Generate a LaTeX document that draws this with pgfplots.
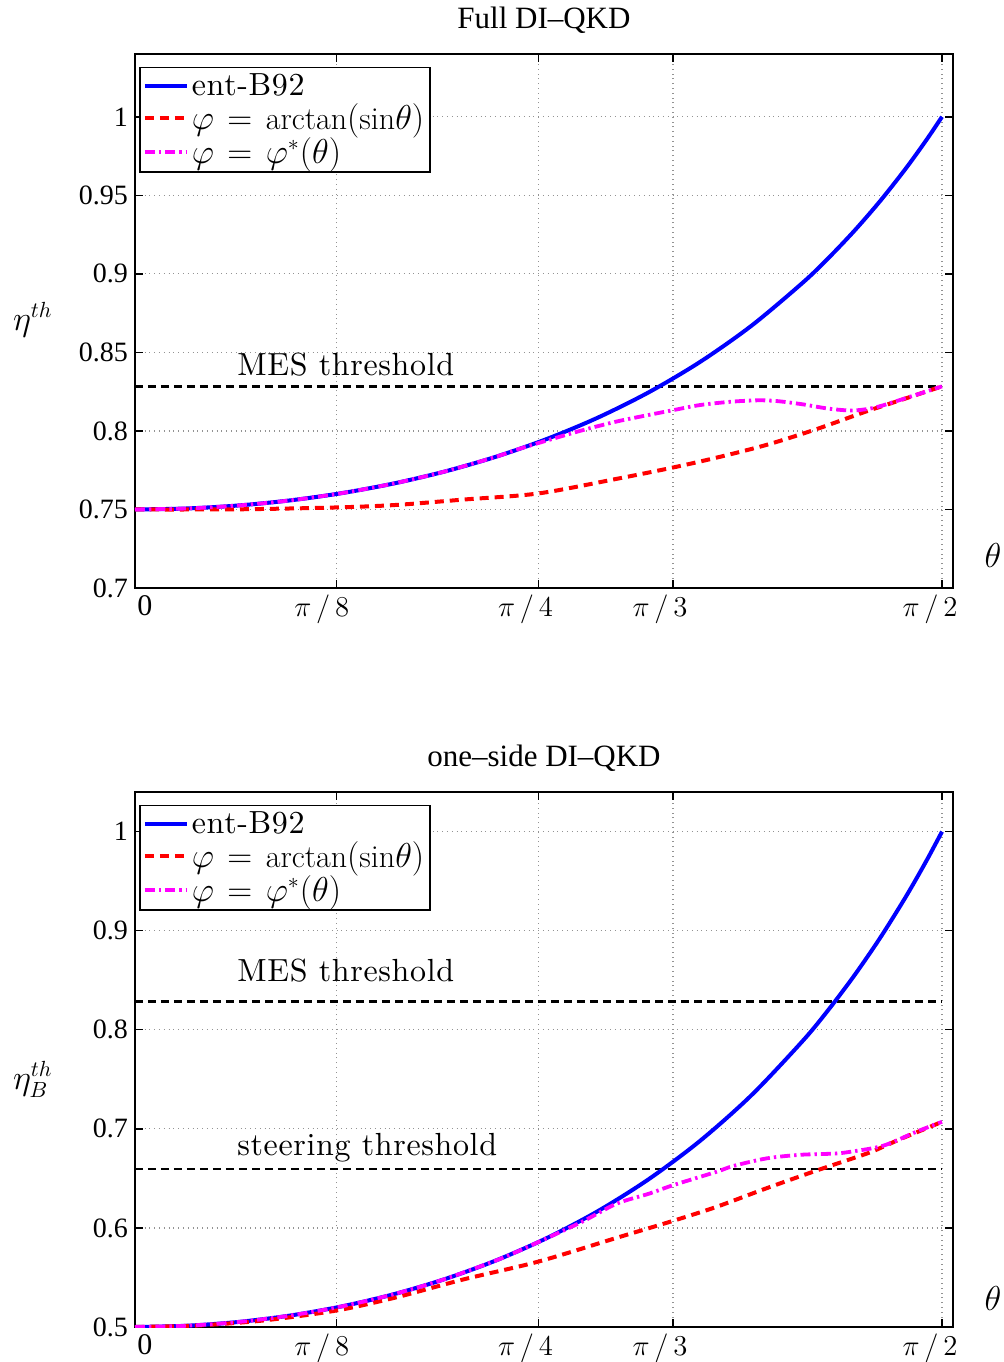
\documentclass[border=0pt]{standalone}
\usepackage{fontspec}
\usepackage{pgfplots}
\pgfplotsset{compat=1.18}
\newfontfamily\tms{Liberation Serif}
\newfontfamily\lmw{lmroman10-regular}[Extension=.otf, LetterSpace=2.0]
\definecolor{mblue}{rgb}{0,0,1}
\definecolor{mred}{rgb}{1,0,0}
\definecolor{mmag}{rgb}{1,0,1}
\newcommand{\ls}{\lmw}
\newcommand{\eqs}{\mskip2mu=\mskip2mu}

\pgfplotsset{
  myaxis/.style={
    scale only axis, width=409pt,
    xmin=0, xmax=1.5922, ymax=1.04,
    xtick={0,0.392699,0.785398,1.047198,1.570796},
    xticklabels={\hspace*{10pt}{\tms 0},$\pi\,/\,8$\hspace*{15pt},$\pi\,/\,4$\hspace*{13pt},$\pi\,/\,3$\hspace*{13pt},$\pi\,/\,2$\hspace*{12pt}},
    xticklabel style={font=\fontsize{15}{17}\selectfont},
    yticklabel style={font=\tms\fontsize{14}{16}\selectfont},
    tick align=inside, tick pos=both, major tick length=4pt,
    tick style={line width=0.7pt, black},
    grid=major, major grid style={dotted, gray!85, line width=0.6pt},
    axis line style={line width=0.8pt},
    every axis title/.style={at={(rel axis cs:0.5,1)}, anchor=center, yshift=17pt, font=\tms\fontsize{15.5}{18}\selectfont},
    every axis x label/.style={at={(rel axis cs:1.049,0.06)}, anchor=center, font=\fontsize{16}{18}\selectfont},
    legend style={at={(rel axis cs:0.005,0.976)}, anchor=north west, draw=black, line width=0.8pt,
      inner sep=1.5pt, font=\fontsize{16}{18}\selectfont, row sep=-0.5pt,
      cells={anchor=west}, /tikz/every even column/.append style={column sep=0pt},
      nodes={inner sep=1.5pt}},
    legend image code/.code={\draw[#1] (0pt,0pt) -- (21pt,0pt);},
  },
  bl/.style={color=mblue, line width=2pt, no marks, smooth},
  rd/.style={color=mred, line width=2pt, no marks, smooth, dash pattern=on 4.5pt off 3pt},
  mg/.style={color=mmag, line width=1.9pt, no marks, smooth, dash pattern=on 5pt off 2pt on 1.2pt off 2pt},
  th/.style={color=black, line width=1.2pt, no marks, dash pattern=on 4pt off 2.5pt, forget plot},
}

\begin{document}
\begin{tikzpicture}
\useasboundingbox (-67.5pt,-387pt) rectangle (434pt,294pt);

% ---------------- top axis ----------------
\begin{axis}[myaxis, at={(0pt,0pt)}, anchor=south west, height=267pt,
  ymin=0.7,
  ytick={0.7,0.75,0.8,0.85,0.9,0.95,1},
  yticklabels={0.7,0.75,0.8,0.85,0.9,0.95,1},
  title={Full DI\textendash QKD},
  xlabel={$\theta$},
  ylabel={$\eta^{th}$},
  every axis y label/.style={at={(rel axis cs:-0.125,0.502)}, anchor=center, font=\fontsize{16}{18}\selectfont},
]
\addplot[th] coordinates {(0,0.8284) (1.5708,0.8284)};
\addplot[bl] coordinates {(0,0.75) (0.1,0.750626) (0.2,0.752517) (0.3,0.755711) (0.4,0.760273) (0.5,0.766300) (0.6,0.773923) (0.7,0.783312) (0.8,0.794689) (0.9,0.808336) (1.0,0.824612) (1.1,0.843975) (1.2,0.867010) (1.3,0.894478) (1.35,0.910170) (1.4,0.927363) (1.45,0.946228) (1.5,0.966968) (1.54,0.985065) (1.5708,1.0)};
\addlegendentry{{\ls ent-B92}}
\addplot[rd] coordinates {(0,0.75) (0.2,0.7501) (0.3927,0.7513) (0.509,0.7529) (0.639,0.7563) (0.785,0.7602) (0.9375,0.7695) (1.047,0.7767) (1.132,0.7830) (1.229,0.7911) (1.327,0.8012) (1.424,0.8125) (1.489,0.8195) (1.5708,0.8284)};
\addlegendentry{$\varphi\eqs\mathrm{arctan}(\mathrm{sin}\theta)$}
\addplot[mg] coordinates {(0,0.75) (0.1,0.750626) (0.2,0.752517) (0.3,0.755711) (0.4,0.760273) (0.5,0.7663) (0.6,0.773923) (0.7,0.783312) (0.75,0.7888) (0.808,0.7945) (0.8726,0.8006) (0.9375,0.8060) (1.0,0.8102) (1.047,0.8132) (1.1,0.8165) (1.16,0.8186) (1.213,0.8195) (1.25,0.8190) (1.2986,0.8170) (1.35,0.8142) (1.395,0.8130) (1.43,0.8142) (1.456,0.8163) (1.489,0.8197) (1.53,0.8240) (1.5708,0.8284)};
\addlegendentry{$\varphi\eqs\varphi^*(\theta)$}
\node[anchor=base west, font=\fontsize{16}{18}\selectfont, inner sep=0pt] at (axis cs:0.1985,0.835) {\ls MES threshold};
\end{axis}

% ---------------- bottom axis ----------------
\begin{axis}[myaxis, at={(0pt,-369.5pt)}, anchor=south west, height=267.5pt,
  ymin=0.5,
  ytick={0.5,0.6,0.7,0.8,0.9,1},
  yticklabels={0.5,0.6,0.7,0.8,0.9,1},
  title={one\textendash side DI\textendash QKD},
  xlabel={$\theta$},
  every axis x label/.style={at={(rel axis cs:1.049,0.054)}, anchor=center, font=\fontsize{16}{18}\selectfont},
  ylabel={$\eta_B^{th}$},
  every axis y label/.style={at={(rel axis cs:-0.125,0.462)}, anchor=center, font=\fontsize{16}{18}\selectfont},
]
\addplot[th] coordinates {(0,0.8284) (1.5708,0.8284)};
\addplot[th] coordinates {(0,0.6594) (1.5708,0.6594)};
\addplot[bl] coordinates {(0,0.5) (0.1,0.501252) (0.2,0.505034) (0.3,0.511421) (0.4,0.520546) (0.5,0.532600) (0.6,0.547845) (0.7,0.566623) (0.8,0.589377) (0.9,0.616671) (1.0,0.649223) (1.1,0.687949) (1.2,0.734020) (1.3,0.788955) (1.35,0.820340) (1.4,0.854725) (1.45,0.892456) (1.5,0.933936) (1.54,0.970129) (1.5708,1.0)};
\addlegendentry{{\ls ent-B92}}
\addplot[rd] coordinates {(0,0.5) (0.12,0.5015) (0.25,0.5066) (0.3927,0.5167) (0.509,0.5300) (0.639,0.5480) (0.785,0.5660) (0.9375,0.5900) (1.047,0.6071) (1.132,0.6213) (1.229,0.6400) (1.327,0.6580) (1.424,0.6750) (1.4564,0.6820) (1.489,0.6895) (1.5708,0.7071)};
\addlegendentry{$\varphi\eqs\mathrm{arctan}(\mathrm{sin}\theta)$}
\addplot[mg] coordinates {(0,0.5) (0.1,0.501252) (0.2,0.505034) (0.3,0.511421) (0.4,0.520546) (0.5,0.5326) (0.6,0.547845) (0.7,0.566623) (0.75,0.5775) (0.808,0.5912) (0.8726,0.6068) (0.9375,0.6245) (1.0,0.6345) (1.0477,0.6432) (1.1321,0.6567) (1.1645,0.6625) (1.2294,0.6702) (1.2943,0.6738) (1.3591,0.6750) (1.3916,0.6768) (1.4564,0.6830) (1.5214,0.6972) (1.5708,0.7071)};
\addlegendentry{$\varphi\eqs\varphi^*(\theta)$}
\node[anchor=base west, font=\fontsize{16}{18}\selectfont, inner sep=0pt] at (axis cs:0.1985,0.8488) {\ls MES threshold};
\node[anchor=base west, font=\fontsize{16}{18}\selectfont, inner sep=0pt] at (axis cs:0.1985,0.6734) {\ls steering threshold};
\end{axis}
\end{tikzpicture}
\end{document}
